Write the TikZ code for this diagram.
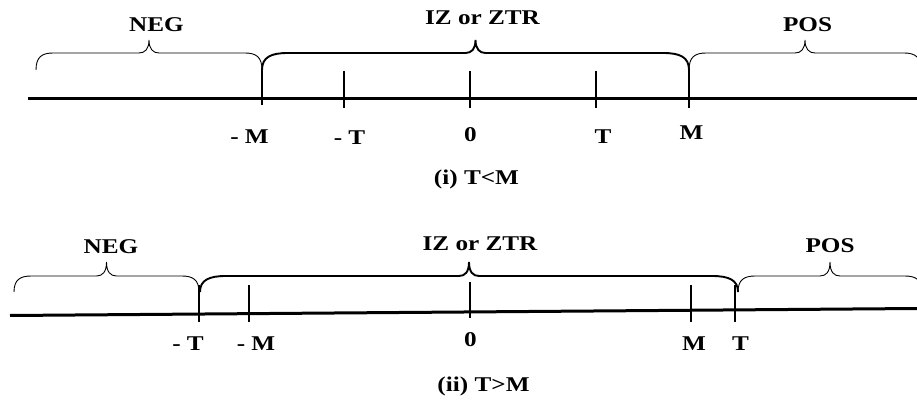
\documentclass[tikz,border=0pt]{standalone}
\usepackage{fontspec}
\setmainfont{Liberation Serif}[FakeStretch=1.2]
% #1 style, #2 x left, #3 x right, #4 y of ends, #5 y of flat part, #6 y of tip, #7 end radius
\newcommand{\cbrace}[7]{%
  \pgfmathsetmacro{\bxa}{#2}%
  \pgfmathsetmacro{\bxb}{#3}%
  \pgfmathsetmacro{\bm}{(#2+#3)/2}%
  \draw[#1] (\bxa,#4) .. controls (\bxa,#5+4) and (\bxa+#7*0.35,#5) .. (\bxa+#7,#5)
    -- (\bm-10,#5) .. controls (\bm-4,#5) and (\bm,#5-4) .. (\bm,#6)
    .. controls (\bm,#5-4) and (\bm+4,#5) .. (\bm+10,#5)
    -- (\bxb-#7,#5) .. controls (\bxb-#7*0.35,#5) and (\bxb,#5+4) .. (\bxb,#4);%
}
\begin{document}
\begin{tikzpicture}[x=1pt,y=-1pt,
  lbl/.style={font=\fontsize{21}{25}\selectfont\bfseries, inner sep=0pt, anchor=base},
  axisline/.style={line width=3pt},
  tickline/.style={line width=2.4pt},
  thinbrace/.style={line width=0.9pt},
  thickbrace/.style={line width=1.9pt}]
\useasboundingbox (0,0) rectangle (917,401);
% ---------- panel (i)
\draw[axisline] (28,99) -- (917,99);
\draw[tickline] (262,70) -- (262,105);
\draw[tickline] (344,71) -- (344,108);
\draw[tickline] (470,71) -- (470,108);
\draw[tickline] (596,71) -- (596,108);
\draw[tickline] (689,70) -- (689,108);
\cbrace{thinbrace}{36}{262}{70}{53}{40}{17}
\cbrace{thickbrace}{262}{689}{70}{53}{40}{26}
\cbrace{thinbrace}{689}{921}{70}{53}{40}{17}
\node[lbl] (neg1) at (156.5,31.7) {NEG};
\node[lbl] (iz1) at (482.5,25) {IZ or ZTR};
\node[lbl] (pos1) at (807.5,31.7) {POS};
\node[lbl] (mM1) at (249.5,143.3) {- M};
\node[lbl] (mT1) at (349.5,144) {- T};
\node[lbl] (z1) at (470.5,141.7) {0};
\node[lbl] (T1) at (603,143.3) {T};
\node[lbl] (M1) at (691.5,139.3) {M};
\node[lbl] (cap1) at (476.5,184.3) {(i) T<M};
% ---------- panel (ii)
\draw[axisline] (10,315.5) -- (917,308.5);
\draw[tickline] (199,285) -- (199,322);
\draw[tickline] (249,285) -- (249,322);
\draw[tickline] (470,282) -- (470,318);
\draw[tickline] (691,285) -- (691,322);
\draw[tickline] (735,285) -- (735,322);
\cbrace{thinbrace}{14}{199}{292}{276}{262}{17}
\cbrace{thickbrace}{200}{738}{292}{276}{262}{26}
\cbrace{thinbrace}{738}{922}{292}{276}{262}{17}
\node[lbl] (neg2) at (111,253.3) {NEG};
\node[lbl] (iz2) at (480,250) {IZ or ZTR};
\node[lbl] (pos2) at (830,252.7) {POS};
\node[lbl] (mT2) at (188,350) {- T};
\node[lbl] (mM2) at (256,350) {- M};
\node[lbl] (z2) at (470.5,346.7) {0};
\node[lbl] (M2) at (694,350) {M};
\node[lbl] (T2) at (740.5,350) {T};
\node[lbl] (cap2) at (483.5,391.7) {(ii) T>M};
\end{tikzpicture}
\end{document}
